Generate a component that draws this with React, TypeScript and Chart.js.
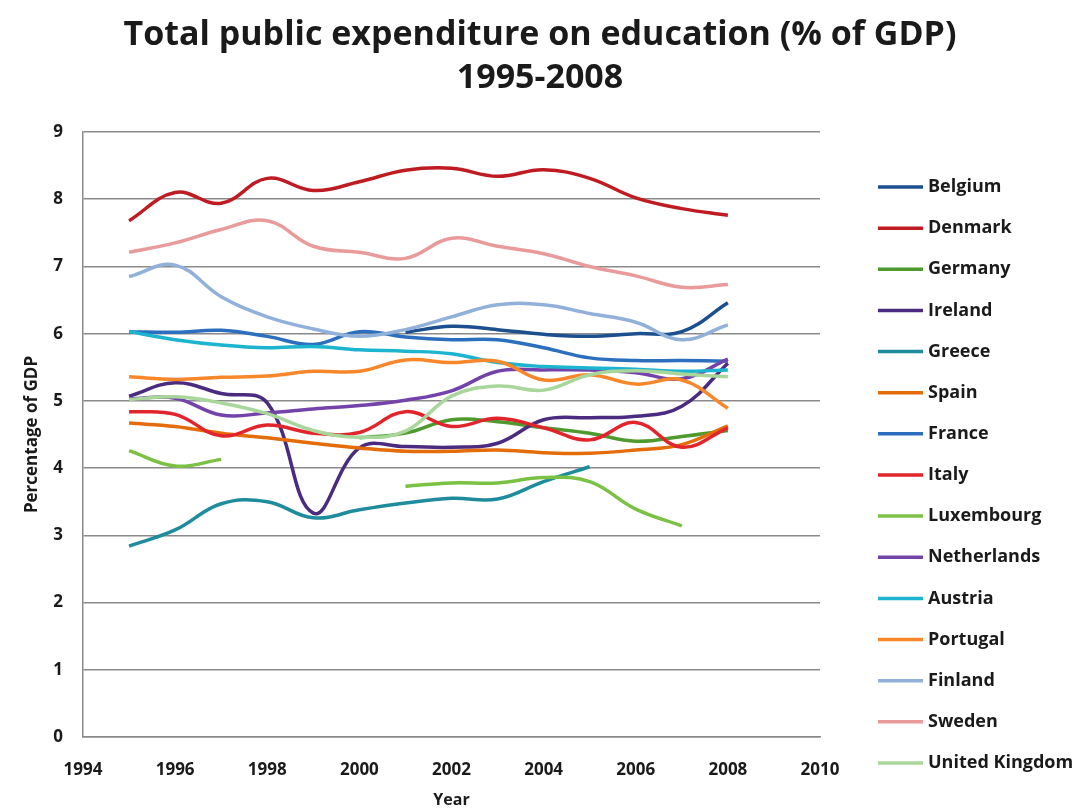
import React, { useEffect, useRef } from 'react';
import { Chart, registerables } from 'chart.js';

Chart.register(...registerables);

const years = [1995, 1996, 1997, 1998, 1999, 2000, 2001, 2002, 2003, 2004, 2005, 2006, 2007, 2008];

const countries = [
  'Belgium', 'Denmark', 'Germany', 'Ireland', 'Greece', 'Spain', 'France', 'Italy',
  'Luxembourg', 'Netherlands', 'Austria', 'Portugal', 'Finland', 'Sweden', 'United Kingdom',
];

const colors = [
  '#1B4F8E', '#BE1B22', '#4F9A2C', '#4A2B80', '#1E8C9C', '#E46C0A', '#2B6FBE', '#E2242C',
  '#7BC143', '#7343AA', '#1DB4CF', '#F7872A', '#92B1DA', '#E99A9B', '#A9D69B',
];

const belgium = [null, null, null, null, null, null, 6.02, 6.11, 6.06, 5.99, 5.96, 6.0, 6.03, 6.46];
const denmark = [7.68, 8.1, 7.94, 8.31, 8.13, 8.26, 8.43, 8.46, 8.34, 8.44, 8.31, 8.02, 7.86, 7.76];
const germany = [null, null, null, null, null, 4.45, 4.52, 4.72, 4.69, 4.6, 4.52, 4.4, 4.47, 4.56];
const ireland = [5.07, 5.27, 5.11, 4.97, 3.33, 4.3, 4.32, 4.31, 4.37, 4.72, 4.75, 4.77, 4.92, 5.56];
const greece = [2.84, 3.08, 3.47, 3.5, 3.26, 3.38, 3.48, 3.55, 3.54, 3.8, 4.02, null, null, null];
const spain = [4.67, 4.62, 4.52, 4.45, 4.37, 4.3, 4.25, 4.25, 4.27, 4.23, 4.22, 4.27, 4.35, 4.63];
const france = [6.03, 6.02, 6.05, 5.96, 5.84, 6.03, 5.95, 5.91, 5.91, 5.79, 5.64, 5.6, 5.6, 5.59];
const italy = [4.84, 4.8, 4.48, 4.64, 4.52, 4.53, 4.84, 4.62, 4.74, 4.6, 4.42, 4.68, 4.31, 4.6];
const luxembourg = [4.26, 4.03, 4.13, null, null, null, 3.73, 3.78, 3.78, 3.86, 3.8, 3.39, 3.14, null];
const netherlands = [5.03, 5.04, 4.79, 4.82, 4.88, 4.93, 5.01, 5.15, 5.44, 5.46, 5.46, 5.42, 5.33, 5.62];
const austria = [6.03, 5.91, 5.83, 5.79, 5.81, 5.76, 5.74, 5.7, 5.57, 5.51, 5.49, 5.47, 5.44, 5.46];
const portugal = [5.36, 5.32, 5.35, 5.37, 5.44, 5.44, 5.61, 5.57, 5.59, 5.31, 5.39, 5.25, 5.31, 4.89];
const finland = [6.85, 7.02, 6.55, 6.25, 6.07, 5.96, 6.06, 6.25, 6.43, 6.43, 6.3, 6.17, 5.91, 6.13];
const sweden = [7.21, 7.35, 7.55, 7.68, 7.3, 7.21, 7.12, 7.42, 7.3, 7.19, 7.0, 6.86, 6.69, 6.73];
const unitedKingdom = [5.02, 5.06, 4.97, 4.81, 4.56, 4.46, 4.55, 5.07, 5.22, 5.16, 5.39, 5.45, 5.4, 5.36];

const seriesValues = [
  belgium, denmark, germany, ireland, greece, spain, france, italy,
  luxembourg, netherlands, austria, portugal, finland, sweden, unitedKingdom,
];

const titleLines = ['Total public expenditure on education (% of GDP)', '1995-2008'];
const xAxisTitle = 'Year';
const yAxisTitle = 'Percentage of GDP';
const xMin = 1994;
const xMax = 2010;
const xStep = 2;
const yMin = 0;
const yMax = 9;
const yStep = 1;

const FONT = '"Open Sans", "DejaVu Sans", sans-serif';
const TEXT = '#1a1a1a';
const GRID = '#8a8a8a';

const decorPlugin = {
  id: 'decor',
  afterDraw(chart: any) {
    const ctx = chart.ctx as CanvasRenderingContext2D;
    ctx.save();
    ctx.fillStyle = TEXT;
    ctx.font = `bold 34px ${FONT}`;
    ctx.textAlign = 'center';
    ctx.textBaseline = 'middle';
    titleLines.forEach((t, i) => ctx.fillText(t, 540, 35 + i * 43));

    ctx.font = `bold 18px ${FONT}`;
    ctx.textAlign = 'left';
    chart.data.datasets.forEach((ds: any, i: number) => {
      const y = 187 + i * 41.14;
      ctx.strokeStyle = ds.borderColor;
      ctx.lineWidth = 3.5;
      ctx.beginPath();
      ctx.moveTo(878, y);
      ctx.lineTo(923, y);
      ctx.stroke();
      ctx.fillStyle = TEXT;
      ctx.fillText(ds.label, 928, y);
    });
    ctx.restore();
  },
};

export default function App() {
  const canvasRef = useRef<HTMLCanvasElement | null>(null);

  useEffect(() => {
    if (!canvasRef.current) return;
    const datasets = countries.map((name, i) => ({
      label: name,
      data: years.map((x, j) => ({ x, y: seriesValues[i][j] })),
      borderColor: colors[i],
      backgroundColor: colors[i],
      borderWidth: 3.5,
      pointRadius: 0,
      pointHoverRadius: 0,
      tension: 0.4,
      fill: false,
      spanGaps: false,
      order: countries.length - i,
    }));

    const chart = new Chart(canvasRef.current, {
      type: 'line',
      data: { datasets },
      plugins: [decorPlugin],
      options: {
        responsive: false,
        animation: false,
        parsing: { xAxisKey: 'x', yAxisKey: 'y' },
        layout: { padding: { top: 132, right: 258, left: 0, bottom: 0 } },
        plugins: {
          legend: { display: false },
          title: { display: false },
          tooltip: { enabled: false },
        },
        scales: {
          x: {
            type: 'linear',
            min: xMin,
            max: xMax,
            afterFit: (s: any) => { s.height = 74; },
            ticks: {
              stepSize: xStep,
              padding: 23,
              color: TEXT,
              font: { family: FONT, size: 17, weight: 'bold' },
              callback: (v: any) => String(v),
            },
            grid: { display: false, drawTicks: false },
            border: { display: true, color: GRID, width: 1.5 },
            title: {
              display: true,
              text: xAxisTitle,
              color: TEXT,
              font: { family: FONT, size: 16, weight: 'bold' },
              padding: { top: 0, bottom: 1 },
            },
          },
          y: {
            min: yMin,
            max: yMax,
            afterFit: (s: any) => { s.width = 83; },
            ticks: {
              stepSize: yStep,
              padding: 20,
              color: TEXT,
              font: { family: FONT, size: 17, weight: 'bold' },
            },
            grid: { color: GRID, lineWidth: 1.5, drawTicks: false },
            border: { display: true, color: GRID, width: 1.5 },
            title: {
              display: true,
              text: yAxisTitle,
              color: TEXT,
              font: { family: FONT, size: 17, weight: 'bold' },
              padding: { top: 22, bottom: 0 },
            },
          },
        },
      },
    });
    return () => chart.destroy();
  }, []);

  return (
    <div style={{ position: 'absolute', left: 0, top: 0, width: 1078, height: 811, background: '#fff' }}>
      <canvas ref={canvasRef} width={1078} height={811} style={{ display: 'block' }} />
    </div>
  );
}
